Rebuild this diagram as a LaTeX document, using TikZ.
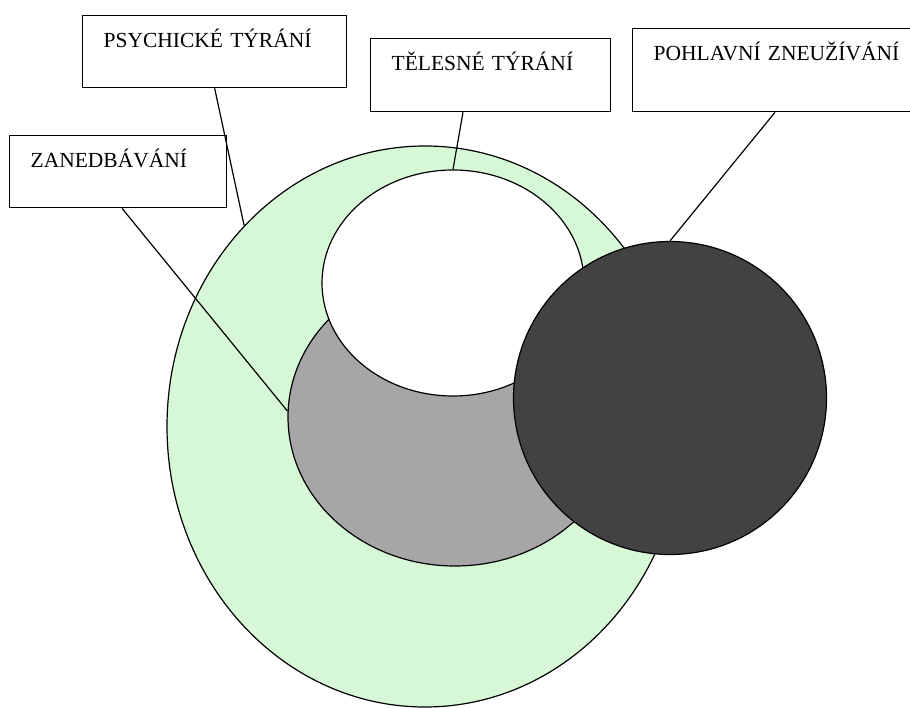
\documentclass[tikz,border=0pt]{standalone}
\usepackage{fontspec}
\setmainfont{Liberation Serif}
\usetikzlibrary{shapes.geometric}
\definecolor{palegreen}{RGB}{214,248,214}
\definecolor{midgrey}{RGB}{166,166,166}
\definecolor{darkfill}{RGB}{66,66,66}
\tikzset{
  tag/.style={draw, fill=white, line width=1.3pt, anchor=north west,
    inner xsep=21pt, inner ysep=0pt, align=left, text height=32pt,
    font=\fontsize{21.5}{26}\selectfont},
  blob/.style={draw, line width=1.2pt, ellipse, inner sep=0pt},
  link/.style={line width=1.2pt}
}
\begin{document}
\begin{tikzpicture}[x=1pt, y=-1pt]
      \useasboundingbox (0,0) rectangle (910,708);
      \node[blob, fill=palegreen, minimum width=516pt, minimum height=561pt] (green) at (425,426.5) {};
      \node[blob, fill=midgrey, minimum width=334pt, minimum height=298pt] (grey) at (455,417) {};
      \node[blob, fill=white, minimum width=262pt, minimum height=226pt] (white) at (453,283) {};
      \node[blob, circle, fill=darkfill, minimum size=313pt] (dark) at (670,398) {};
      \node[tag, text width=222pt, text depth=40pt] (psych) at (82,15) {PSYCHICKÉ TÝRÁNÍ};
      \node[tag, text width=175pt, text depth=40pt] (zaned) at (9,135) {ZANEDBÁVÁNÍ};
      \node[tag, text width=198pt, text depth=41pt] (telesne) at (370,38) {TĚLESNÉ TÝRÁNÍ};
      \node[tag, text width=258pt, text depth=51pt] (pohlav) at (632,28) {POHLAVNÍ ZNEUŽÍVÁNÍ};
      \begin{scope}[link]
        \draw (psych.south) to (green.132.5);
        \draw ([xshift=113pt]zaned.south west) to (grey.178);
        \draw ([xshift=93pt]telesne.south west) to (white.north);
        \draw ([xshift=143pt]pohlav.south west) to (dark.north);
      \end{scope}
    \end{tikzpicture}
\end{document}
